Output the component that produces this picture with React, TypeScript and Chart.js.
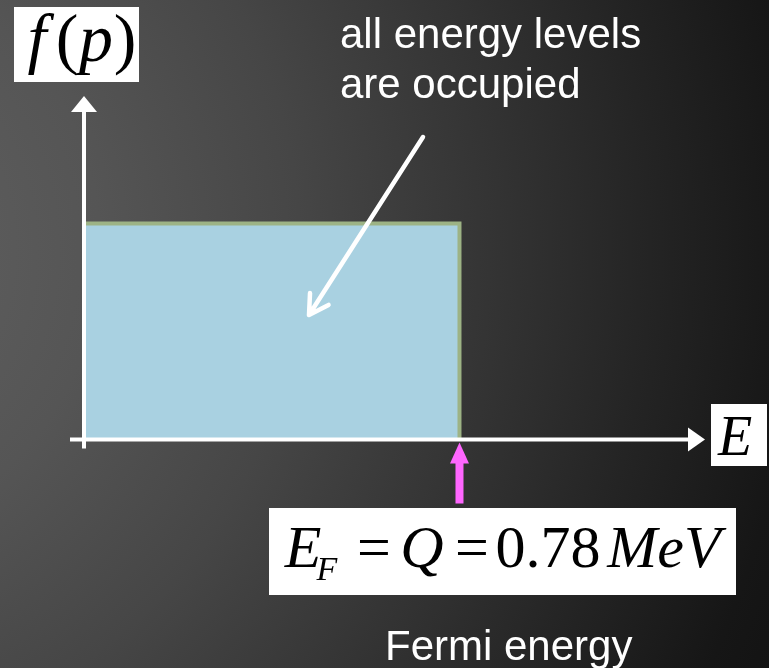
import React, { useEffect, useRef } from "react";
import { Chart, registerables } from "chart.js";

Chart.register(...registerables);

// Step-function occupancy f(p) vs energy E (MeV)
const energyMeV = [0, 0.78, 0.78];
const occupancy = [1, 1, 0];
const fermiEnergy = 0.78;
const xAxisMax = 1.29;
const yAxisMax = 1.59;

const annotationLines = ["all energy levels", "are occupied"];
const footerLabel = "Fermi energy";

const W = 769;
const H = 668;

const slidePlugin = {
  id: "slide",
  beforeDraw(chart: any) {
    const ctx = chart.ctx;
    ctx.save();
    const g = ctx.createRadialGradient(-200, 250, 0, -200, 250, 1100);
    g.addColorStop(0, "#636363");
    g.addColorStop(300 / 1100, "#555555");
    g.addColorStop(500 / 1100, "#464646");
    g.addColorStop(700 / 1100, "#333333");
    g.addColorStop(850 / 1100, "#242424");
    g.addColorStop(1000 / 1100, "#161616");
    g.addColorStop(1, "#111111");
    ctx.fillStyle = g;
    ctx.fillRect(0, 0, W, H);
    ctx.restore();
  },
  afterDatasetsDraw(chart: any) {
    const ctx = chart.ctx;
    const xs = chart.scales.x;
    const ys = chart.scales.y;
    const area = chart.chartArea;
    const x0 = xs.getPixelForValue(0);
    const y0 = ys.getPixelForValue(0);
    ctx.save();

    // axes
    ctx.strokeStyle = "#ffffff";
    ctx.fillStyle = "#ffffff";
    ctx.lineWidth = 4;
    ctx.lineCap = "butt";
    // x axis
    ctx.beginPath();
    ctx.moveTo(x0 - 14, y0);
    ctx.lineTo(area.right - 14, y0);
    ctx.stroke();
    ctx.beginPath();
    ctx.moveTo(area.right, y0);
    ctx.lineTo(area.right - 17, y0 - 12);
    ctx.lineTo(area.right - 17, y0 + 12);
    ctx.closePath();
    ctx.fill();
    // y axis
    ctx.beginPath();
    ctx.moveTo(x0, y0 + 9);
    ctx.lineTo(x0, area.top + 14);
    ctx.stroke();
    ctx.beginPath();
    ctx.moveTo(x0, area.top);
    ctx.lineTo(x0 - 13, area.top + 16);
    ctx.lineTo(x0 + 13, area.top + 16);
    ctx.closePath();
    ctx.fill();

    // pointer arrow
    const sx = 423, sy = 137, ex = 309, ey = 315;
    ctx.lineWidth = 4.5;
    ctx.lineCap = "round";
    ctx.lineJoin = "round";
    ctx.beginPath();
    ctx.moveTo(sx, sy);
    ctx.lineTo(ex, ey);
    const ang = Math.atan2(sy - ey, sx - ex);
    const arm = 22;
    ctx.moveTo(ex + arm * Math.cos(ang - Math.PI / 6), ey + arm * Math.sin(ang - Math.PI / 6));
    ctx.lineTo(ex, ey);
    ctx.lineTo(ex + arm * Math.cos(ang + Math.PI / 6), ey + arm * Math.sin(ang + Math.PI / 6));
    ctx.stroke();

    // magenta Fermi arrow
    const fx = xs.getPixelForValue(fermiEnergy);
    ctx.fillStyle = "#ff66ff";
    ctx.beginPath();
    ctx.moveTo(fx, y0 + 3);
    ctx.lineTo(fx - 9.5, y0 + 24);
    ctx.lineTo(fx + 9.5, y0 + 24);
    ctx.closePath();
    ctx.fill();
    ctx.fillRect(fx - 4, y0 + 22, 8, 42);

    // white text
    ctx.fillStyle = "#ffffff";
    ctx.font = '42px "Liberation Sans", Arial, sans-serif';
    ctx.textAlign = "left";
    ctx.textBaseline = "alphabetic";
    ctx.fillText(annotationLines[0], 340, 48);
    ctx.fillText(annotationLines[1], 340, 98);
    ctx.fillText(footerLabel, 385, 660);

    // boxes
    const serif = '"Liberation Serif", "Times New Roman", serif';
    ctx.fillStyle = "#ffffff";
    ctx.fillRect(14, 7, 125, 75);
    ctx.fillRect(711, 404, 56, 62);
    ctx.fillRect(269, 508, 467, 87);

    ctx.fillStyle = "#000000";
    ctx.textAlign = "center";
    const glyph = (t: string, x: number, y: number, size: number, italic: boolean) => {
      ctx.font = `${italic ? "italic " : ""}${size}px ${serif}`;
      ctx.fillText(t, x, y);
    };
    // f(p)
    glyph("f", 37, 61, 68, true);
    glyph("(", 67, 61, 68, false);
    glyph("p", 96, 61, 68, true);
    glyph(")", 125, 61, 68, false);
    // E
    glyph("E", 735, 455, 56, true);
    // E_F = Q = 0.78 MeV
    glyph("E", 303, 567, 60, true);
    glyph("F", 327, 580, 34, true);
    glyph("=", 374, 567, 60, false);
    glyph("Q", 422, 567, 60, true);
    glyph("=", 472, 567, 60, false);
    glyph("0.78", 548, 567, 60, false);
    glyph("MeV", 664, 567, 60, true);

    ctx.restore();
  },
};

export default function App() {
  const ref = useRef<HTMLCanvasElement | null>(null);
  useEffect(() => {
    if (!ref.current) return;
    const chart = new Chart(ref.current, {
      type: "line",
      data: {
        datasets: [
          {
            data: energyMeV.map((e, i) => ({ x: e, y: occupancy[i] })),
            fill: "origin",
            backgroundColor: "#a9d1e1",
            borderColor: "#9db385",
            borderWidth: 4,
            borderCapStyle: "square",
            borderJoinStyle: "miter",
            pointRadius: 0,
            tension: 0,
          } as any,
        ],
      },
      options: {
        animation: false,
        responsive: false,
        maintainAspectRatio: false,
        devicePixelRatio: 1,
        layout: { padding: { left: 84, right: 64, top: 96, bottom: 228.5 } },
        plugins: { legend: { display: false }, tooltip: { enabled: false } },
        scales: {
          x: { type: "linear", min: 0, max: xAxisMax, display: false },
          y: { type: "linear", min: 0, max: yAxisMax, display: false },
        },
      },
      plugins: [slidePlugin],
    });
    return () => chart.destroy();
  }, []);
  return (
    <div style={{ position: "fixed", left: 0, top: 0, width: W, height: H }}>
      <canvas ref={ref} width={W} height={H} style={{ display: "block", width: W, height: H }} />
    </div>
  );
}
